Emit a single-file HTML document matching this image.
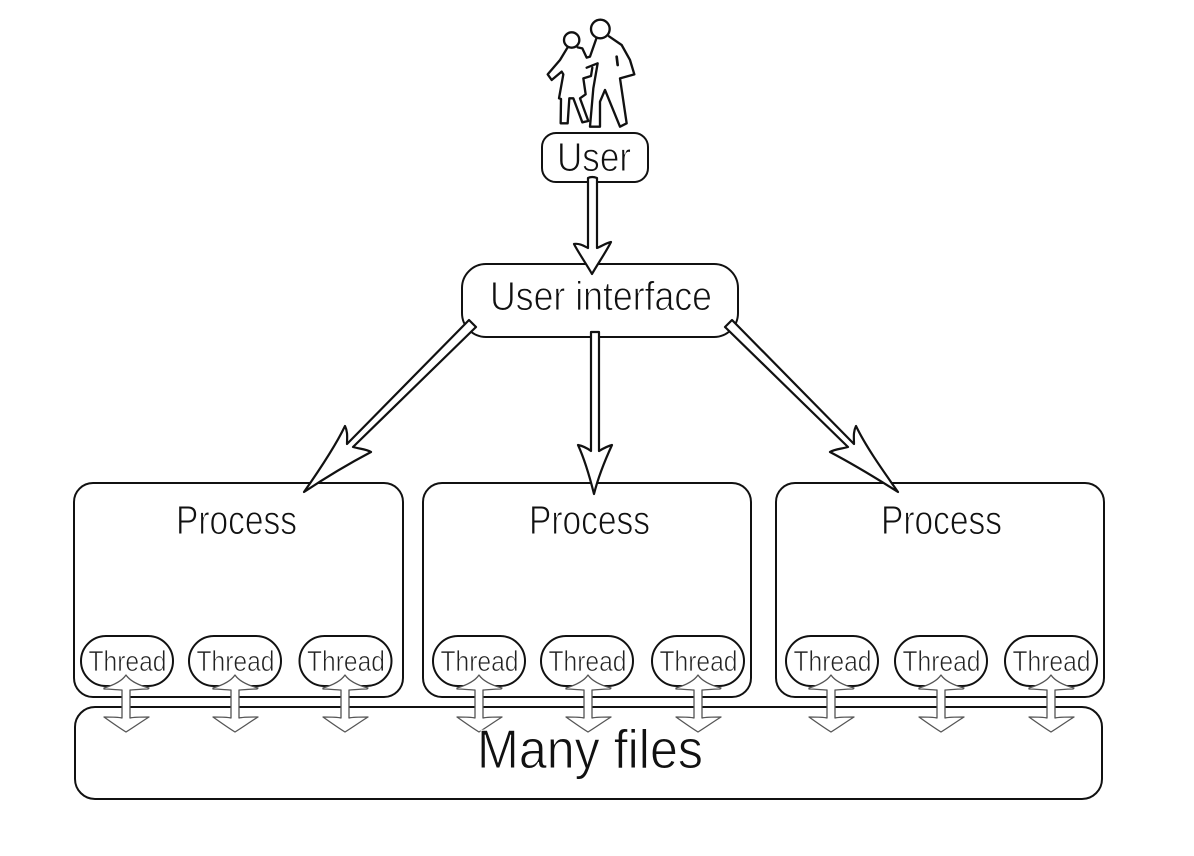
<!DOCTYPE html>
<html><head><meta charset="utf-8"><style>
html,body{margin:0;padding:0;background:#fff}
svg{display:block}
text{font-family:"Liberation Sans",sans-serif;fill:#111;stroke:#fff;stroke-width:1px}
.b{fill:#fff;stroke:#111;stroke-width:2}
.a{fill:#fff;stroke:#111;stroke-width:2.2;stroke-linejoin:round}
.d{fill:#fff;stroke:#555;stroke-width:1.3;stroke-linejoin:round}
.t{font-size:29px;fill:#222;stroke-width:.7px}
</style></head><body>
<svg width="1194" height="856" viewBox="0 0 1194 856" xmlns="http://www.w3.org/2000/svg">
<defs>
<g id="th"><rect x="-46" y="-25" width="92" height="50" rx="25" ry="25" class="b"/><text class="t" x="-38.500" y="10" textLength="78" lengthAdjust="spacingAndGlyphs">Thread</text></g>
<path id="dbl" class="d" d="M0,-39 C4,-33 12,-29 23,-26 L22,-25 C14,-25 8,-24 4,-24 L4,4 C8,3 15,3 23,3 C15,8 8,13 0,18 C-8,13 -15,8 -22,3 C-15,3 -8,3 -4,4 L-4,-24 C-8,-24 -15,-25 -22,-25 L-22,-26 C-12,-29 -4,-33 0,-39 Z"/>
</defs>

<!-- process boxes -->
<rect class="b" x="74" y="483" width="329" height="214" rx="19"/>
<rect class="b" x="423" y="483" width="328" height="214" rx="19"/>
<rect class="b" x="776" y="483" width="328" height="214" rx="19"/>
<rect class="b" x="75" y="707" width="1027" height="92" rx="20"/>

<!-- user figures -->
<g transform="translate(545,15) scale(.3333)" fill="none" stroke="#111" stroke-width="7" stroke-linejoin="round" stroke-linecap="round">
<path d="M68,97 L45,135 L8,178 L20,195 L50,170 L55,178 L42,250 L48,252 L47,325 L68,325 L73,250 L85,250 L112,322 L130,318 L105,250 L122,238 L115,190 L138,183 L142,158"/>
<path d="M98,97 L112,100 L125,128 L135,125 L155,68"/>
<path d="M125,158 L158,145 L145,220 L135,335 L165,335 L165,260 L180,225 L225,335 L245,325 L225,190 L268,178 L255,135 L230,90 L192,64"/>
<path d="M215,125 L218,150" stroke-width="8"/>
<circle cx="80" cy="75" r="23"/>
<circle cx="166" cy="42" r="28"/>
</g>

<!-- user boxes -->
<rect class="b" x="542" y="133" width="106" height="49" rx="14"/>
<rect class="b" x="462" y="264" width="276" height="73" rx="24"/>
<text x="557" y="171" font-size="41" textLength="74" lengthAdjust="spacingAndGlyphs">User</text>
<text x="490" y="310" font-size="41" textLength="222" lengthAdjust="spacingAndGlyphs">User interface</text>

<!-- arrows -->
<path class="a" d="M588,178 Q592,176 597,178 L597,248 C602,246 606,243 611,242 C606,252 597,265 592,274 C587,265 578,252 574,244 C579,243 584,246 588,248 Z"/>
<path class="a" d="M591,332 L599,332 L599,451 C604,448 608,446 612,445 C606,458 598,478 594,494 C590,478 584,458 578,445 C583,446 587,448 591,451 Z"/>
<path class="a" d="M469,320 L476,327 L353,447 C360,449 366,449 371,452 C352,462 325,478 304,492 C318,472 335,447 345,426 C348,432 347,438 347,444 Z"/>
<path class="a" d="M732,320 L725,327 L848,447 C841,449 835,449 830,452 C849,462 876,478 898,492 C884,472 866,447 856,426 C853,432 854,438 854,444 Z"/>

<!-- process labels -->
<text x="176" y="534" font-size="41" textLength="121" lengthAdjust="spacingAndGlyphs">Process</text>
<text x="529" y="534" font-size="41" textLength="121" lengthAdjust="spacingAndGlyphs">Process</text>
<text x="881" y="534" font-size="41" textLength="121" lengthAdjust="spacingAndGlyphs">Process</text>

<!-- threads -->
<use href="#th" x="127" y="661"/><use href="#th" x="235" y="661"/><use href="#th" x="345.500" y="661"/>
<use href="#th" x="479" y="661"/><use href="#th" x="587" y="661"/><use href="#th" x="698" y="661"/>
<use href="#th" x="832" y="661"/><use href="#th" x="941" y="661"/><use href="#th" x="1051" y="661"/>

<!-- double arrows -->
<use href="#dbl" x="126" y="714"/><use href="#dbl" x="235" y="714"/><use href="#dbl" x="345" y="714"/>
<use href="#dbl" x="479" y="714"/><use href="#dbl" x="588" y="714"/><use href="#dbl" x="698" y="714"/>
<use href="#dbl" x="831" y="714"/><use href="#dbl" x="941" y="714"/><use href="#dbl" x="1051" y="714"/>

<text x="477" y="768" font-size="55" textLength="226" lengthAdjust="spacingAndGlyphs">Many files</text>
</svg>
</body></html>
